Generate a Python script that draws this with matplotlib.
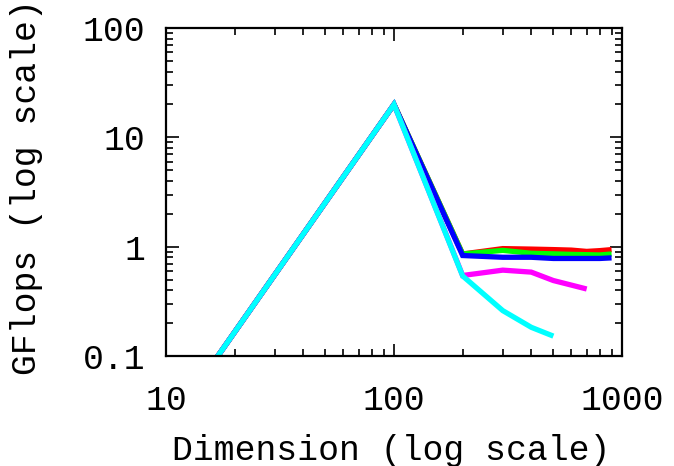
import matplotlib
matplotlib.use("Agg")
import matplotlib.pyplot as plt
from matplotlib.ticker import LogLocator, NullFormatter, FixedLocator, FixedFormatter

plt.rcParams['font.family'] = ['Liberation Mono', 'DejaVu Sans Mono']

dims_full = [10, 100, 200, 300, 400, 500, 600, 700, 800, 900]
red = [0.021, 20, 0.857, 0.96, 0.95, 0.94, 0.93, 0.905, 0.92, 0.94]
green = [0.021, 20, 0.857, 0.925, 0.87, 0.86, 0.85, 0.845, 0.84, 0.857]
blue = [0.021, 20, 0.83, 0.80, 0.80, 0.78, 0.78, 0.78, 0.78, 0.79]
dims_mag = [10, 100, 200, 300, 400, 500, 600, 700]
magenta = [0.021, 20, 0.545, 0.61, 0.585, 0.49, 0.445, 0.41]
dims_cyan = [10, 100, 200, 300, 400, 500]
cyan = [0.021, 20, 0.54, 0.26, 0.183, 0.152]

fig = plt.figure(figsize=(6.74, 4.66), dpi=100)
ax = fig.add_axes([166/674, 1 - 356/466, (622-166)/674, (356-28)/466])

lw = 3.8
style = dict(lw=lw, solid_joinstyle='miter', solid_capstyle='butt')
ax.plot(dims_full, red, color='#ff0000', **style)
ax.plot(dims_full, green, color='#00ff00', **style)
ax.plot(dims_full, blue, color='#0000ff', **style)
ax.plot(dims_mag, magenta, color='#ff00ff', **style)
ax.plot(dims_cyan, cyan, color='#00ffff', **style)

ax.set_xscale('log')
ax.set_yscale('log')
ax.set_xlim(10, 1000)
ax.set_ylim(0.1, 100)

xt = [10, 100, 1000]
yt = [0.1, 1, 10, 100]
ax.xaxis.set_major_locator(FixedLocator(xt))
ax.xaxis.set_major_formatter(FixedFormatter(['10', '100', '1000']))
ax.yaxis.set_major_locator(FixedLocator(yt))
ax.yaxis.set_major_formatter(FixedFormatter(['0.1', '1', '10', '100']))
ax.xaxis.set_minor_locator(LogLocator(base=10, subs=range(2, 10)))
ax.yaxis.set_minor_locator(LogLocator(base=10, subs=range(2, 10)))
ax.xaxis.set_minor_formatter(NullFormatter())
ax.yaxis.set_minor_formatter(NullFormatter())

ax.tick_params(which='both', direction='in', top=True, right=True, width=1.2, colors='black')
ax.tick_params(which='major', length=9, labelsize=25)
ax.tick_params(which='minor', length=5)
ax.tick_params(axis='x', which='major', pad=20)
ax.tick_params(axis='y', which='major', pad=15)
for s in ax.spines.values():
    s.set_linewidth(1.6)

ax.set_xlabel('Dimension (log scale)', fontsize=25, va='center')
ax.set_ylabel('GFlops (log scale)', fontsize=25, va='center')
ax.xaxis.set_label_coords(0.493, -0.287)
ax.yaxis.set_label_coords(-0.305, 0.515)

fig.savefig('out.png', dpi=100)
